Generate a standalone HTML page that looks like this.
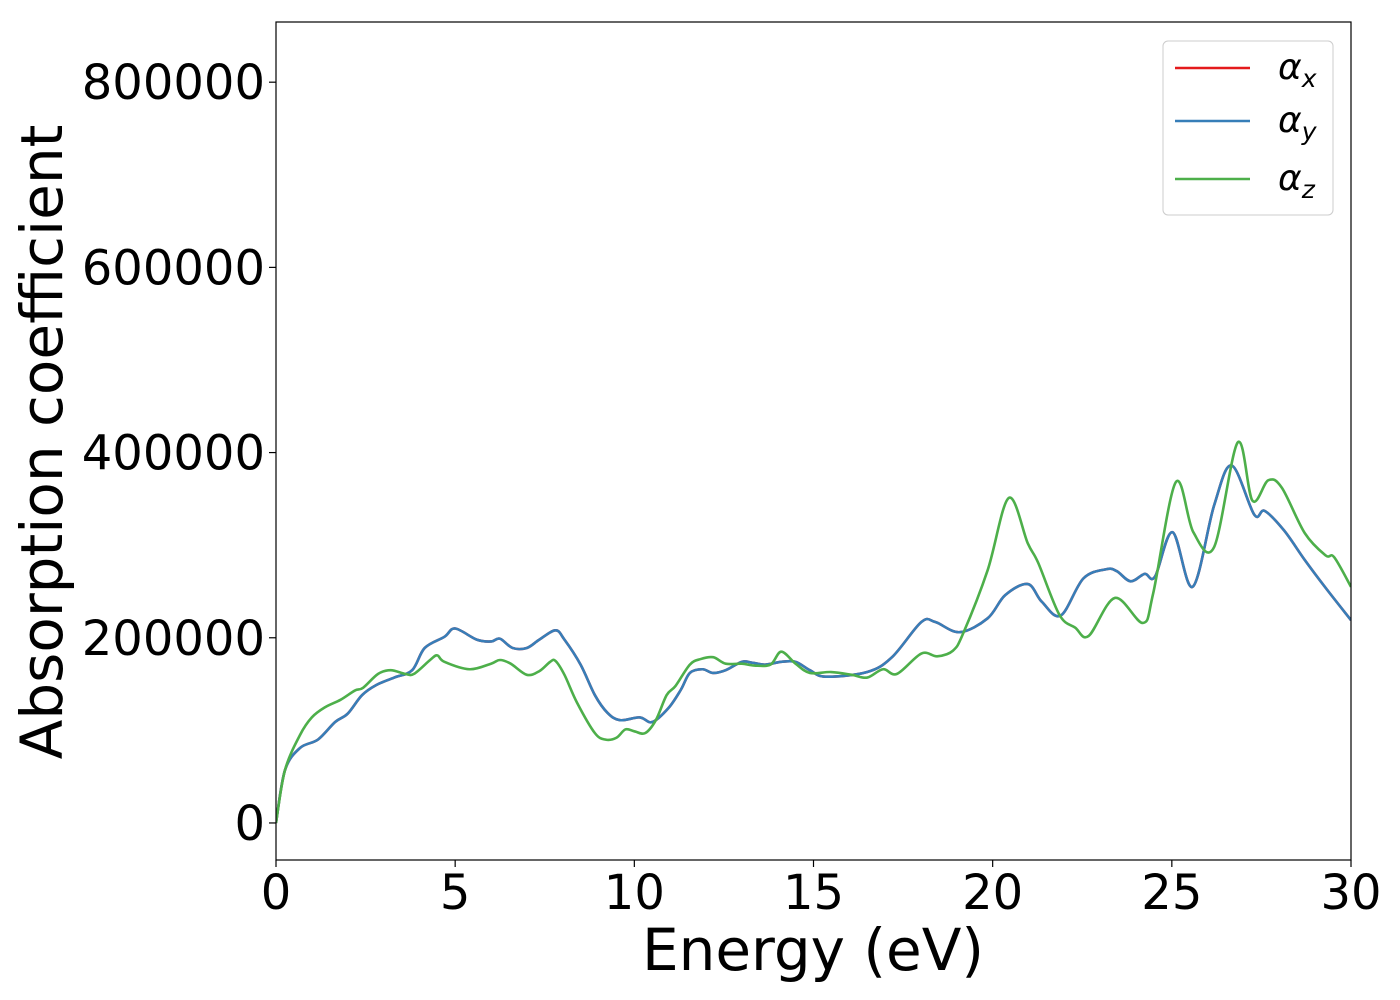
<!DOCTYPE html>
<html><head><meta charset="utf-8"><style>
html,body{margin:0;padding:0;background:#fff;}
svg{display:block;font-family:"DejaVu Sans","Liberation Sans",sans-serif;}
</style></head><body>
<svg id="chart" width="1400" height="1000" viewBox="0 0 1400 1000" xmlns="http://www.w3.org/2000/svg"></svg>
<script>
const xTicks = [0, 5, 10, 15, 20, 25, 30];
const yTicks = [0, 200000, 400000, 600000, 800000];
const yTickLabels = ["0", "200000", "400000", "600000", "800000"];
const energyXY = [0,0.25,0.67,1.17,1.65,2.0,2.4,2.8,3.3,3.8,4.15,4.7,5.0,5.6,6.0,6.25,6.6,7.0,7.35,7.8,8.05,8.5,8.9,9.25,9.6,10.15,10.5,10.95,11.3,11.55,11.9,12.2,12.55,13.0,13.3,13.65,14.1,14.5,14.9,15.34,16.5,17.19,18.01,18.4,19.08,19.86,20.35,20.98,21.37,21.9,22.53,23.17,23.46,23.85,24.24,24.53,25.02,25.58,26.18,26.67,27.3,27.59,28.13,28.71,29.29,30.0];
const alphaXY = [0,57000,81000,90000,109000,118000,138000,149000,157000,165000,189000,201000,210000,198000,196000,199000,189000,189000,198000,208000,198000,171000,138000,119000,111000,114000,109000,124000,144000,162000,166000,162000,165000,174000,173000,171000,174000,174000,165000,158000,163000,179000,217000,217000,206000,221000,246000,258000,239000,224000,264000,274000,272000,261000,269000,266000,314000,255000,343000,386000,333000,337000,316000,284000,254000,219000];
const energyZ = [0,0.25,0.67,1.0,1.37,1.8,2.2,2.43,2.85,3.2,3.6,3.85,4.3,4.5,4.7,5.4,6.0,6.25,6.55,7.0,7.35,7.65,7.8,8.05,8.4,8.9,9.2,9.5,9.75,10.0,10.3,10.6,10.9,11.15,11.55,11.85,12.2,12.55,13.0,13.35,13.8,14.1,14.5,14.9,15.49,16.07,16.5,16.94,17.33,18.01,18.45,18.89,19.18,19.86,20.45,20.98,21.27,21.86,22.3,22.68,23.41,24.19,24.48,25.11,25.6,26.18,26.84,27.25,27.69,28.07,28.71,29.29,29.53,30.0];
const alphaZ = [0,57000,95000,114000,125000,133000,143000,146000,161000,165000,161000,161000,176000,181000,174000,166000,172000,176000,172000,160000,164000,174000,175000,160000,130000,97000,90000,92000,101000,99000,97000,111000,138000,148000,171000,177000,179000,172000,172000,170000,171000,185000,172000,162000,163000,160000,157000,166000,161000,183000,180000,186000,205000,273000,351000,302000,281000,225000,211000,202000,243000,216000,248000,368000,314000,298000,411000,348000,370000,362000,313000,289000,287000,255000];
const seriesNames = ["α_x", "α_y", "α_z"];

const NS = "http://www.w3.org/2000/svg";
const svg = document.getElementById("chart");
const L = 276, R = 1351, T = 22, B = 860;
const xMin = 0, xMax = 30, yMin = -40000, yMax = 865000;
function sx(v){ return L + (v - xMin) / (xMax - xMin) * (R - L); }
function sy(v){ return B - (v - yMin) / (yMax - yMin) * (B - T); }
function mk(tag, attrs){ const e = document.createElementNS(NS, tag); for (const k in attrs) e.setAttribute(k, attrs[k]); svg.appendChild(e); return e; }

function smoothPath(xs, ys){
  const p = xs.map((x, i) => [sx(x), sy(ys[i])]);
  let d = "M" + p[0][0].toFixed(2) + "," + p[0][1].toFixed(2);
  for (let i = 0; i < p.length - 1; i++){
    const p0 = p[Math.max(0, i - 1)], p1 = p[i], p2 = p[i + 1], p3 = p[Math.min(p.length - 1, i + 2)];
    const c1x = p1[0] + (p2[0] - p0[0]) / 6, c1y = p1[1] + (p2[1] - p0[1]) / 6;
    const c2x = p2[0] - (p3[0] - p1[0]) / 6, c2y = p2[1] - (p3[1] - p1[1]) / 6;
    d += " C" + c1x.toFixed(2) + "," + c1y.toFixed(2) + " " + c2x.toFixed(2) + "," + c2y.toFixed(2) + " " + p2[0].toFixed(2) + "," + p2[1].toFixed(2);
  }
  return d;
}

const defs = mk("defs", {});
const cp = document.createElementNS(NS, "clipPath"); cp.setAttribute("id", "plotclip");
const cr = document.createElementNS(NS, "rect");
cr.setAttribute("x", L); cr.setAttribute("y", T); cr.setAttribute("width", R - L); cr.setAttribute("height", B - T);
cp.appendChild(cr); defs.appendChild(cp);

const colors = ["#e41a1c", "#377eb8", "#4daf4a"];
const dataX = [energyXY, energyXY, energyZ];
const dataY = [alphaXY, alphaXY, alphaZ];
const lineNames = ["alpha-x-line", "alpha-y-line", "alpha-z-line"];
for (let s = 0; s < 3; s++){
  const path = mk("path", {d: smoothPath(dataX[s], dataY[s]), fill: "none", stroke: colors[s], "stroke-width": 2.6, "stroke-linejoin": "round", "clip-path": "url(#plotclip)"});
  
  
}

const frame = mk("rect", {x: L, y: T, width: R - L, height: B - T, fill: "none", stroke: "#000", "stroke-width": 1.2});



xTicks.forEach(v => {
  const t = mk("line", {x1: sx(v), x2: sx(v), y1: B, y2: B + 7, stroke: "#000", "stroke-width": 1.2});
  
  
  const lb = mk("text", {x: sx(v), y: 909, "text-anchor": "middle", "font-size": 48, fill: "#000"});
  lb.textContent = String(v);
  
  
});
yTicks.forEach((v, i) => {
  const t = mk("line", {x1: L - 7, x2: L, y1: sy(v), y2: sy(v), stroke: "#000", "stroke-width": 1.2});
  
  
  const lb = mk("text", {x: 265, y: sy(v) + 17, "text-anchor": "end", "font-size": 48, fill: "#000"});
  lb.textContent = yTickLabels[i];
  
  
});

const xt = mk("text", {x: 813, y: 970, "text-anchor": "middle", "font-size": 58, fill: "#000"});
xt.textContent = "Energy (eV)";


const yt = mk("text", {x: 0, y: 0, "text-anchor": "middle", "font-size": 58, fill: "#000", transform: "translate(62,442) rotate(-90)"});
yt.textContent = "Absorption coefficient";



const lg = mk("rect", {x: 1163, y: 41, width: 170, height: 174, rx: 5, fill: "#fff", "fill-opacity": 0.8, stroke: "#ccc", "stroke-width": 1});


const legY = [68, 121, 179];
const subs = ["x", "y", "z"];
for (let s = 0; s < 3; s++){
  const ln = mk("line", {x1: 1175, x2: 1250, y1: legY[s], y2: legY[s], stroke: colors[s], "stroke-width": 2.6});
  
  
  const tx = mk("text", {x: 1278, y: legY[s] + 11, "font-size": 36, "font-style": "italic", fill: "#000"});
  
  
  tx.appendChild(document.createTextNode("α"));
  const sub = document.createElementNS(NS, "tspan");
  sub.setAttribute("font-size", 25); sub.setAttribute("dy", 8);
  sub.textContent = subs[s];
  tx.appendChild(sub);
}
</script>
</body></html>
